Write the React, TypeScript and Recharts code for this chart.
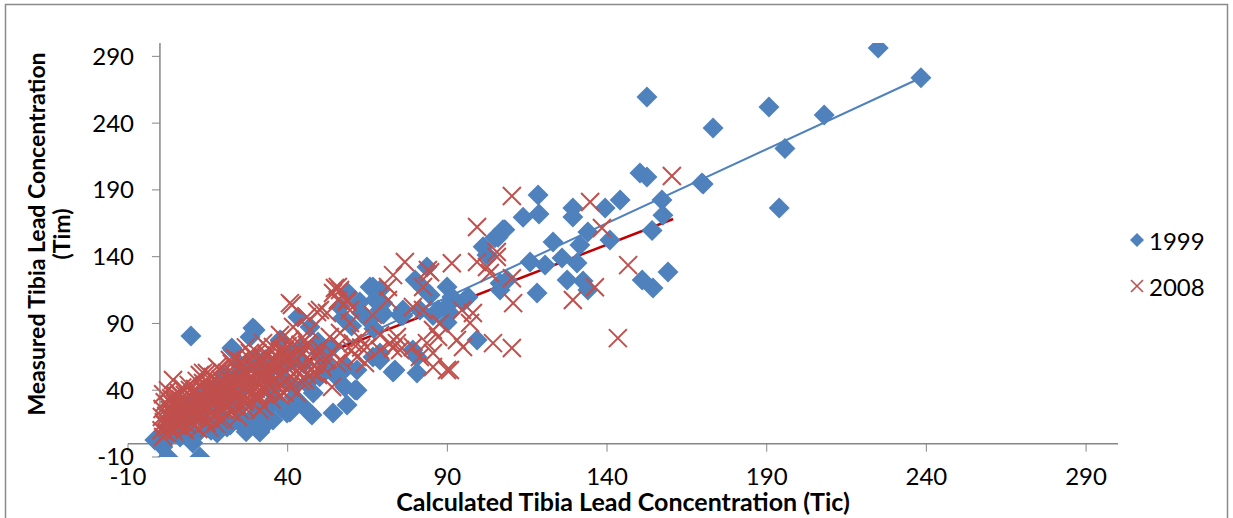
import React from "react";
import { ScatterChart, Scatter, XAxis, YAxis, ReferenceLine, Legend } from "recharts";

// tick values for both axes
const xTicks = [-10, 40, 90, 140, 190, 240, 290];
const yTicks = [-10, 40, 90, 140, 190, 240, 290];

// 1999 measurements [Tic, Tim]
const pts1999: [number, number][] = [
  [224.9, 296.3], [238.3, 273.9], [152.5, 259.6], [190.7, 252.1], [208, 246.1],
  [173.2, 236.3], [195.7, 221], [150.3, 202.7], [152.5, 199.6], [170.1, 194.5],
  [193.9, 176.5], [157.2, 182.5], [157.5, 171.1], [154.1, 159.6], [118.4, 186.2],
  [113.7, 169.6], [118.7, 171.9], [108, 160.2], [129.3, 176.5], [129.3, 169.7],
  [139.4, 176.5], [144.1, 182.5], [134, 158.5], [123.1, 151], [131.5, 148.7],
  [115.9, 136], [120.6, 133.8], [125.9, 139], [130.6, 135.3], [127.5, 122.5],
  [132.5, 121.8], [140.9, 152.5], [151, 122.5], [154.4, 116.5], [159.1, 128.5],
  [118.1, 112.8], [134, 115.1], [106.5, 115.1], [169.7, 195.2], [107.4, 160.2],
  [104.9, 154.2], [101.2, 147.4], [99.3, 77.6], [105.9, 154.6], [102.4, 141.3],
  [83.6, 132.3], [79.9, 122.5], [82.4, 116.6], [84.6, 111.3], [89.9, 117.3],
  [91.4, 109.8], [96.5, 109.8], [94.9, 106], [106.5, 120.1], [108.7, 122.5],
  [68.9, 100.1], [69.8, 105.3], [76.1, 100.1], [75.2, 96.4], [87.1, 100.1],
  [89.9, 103.1], [90.8, 97.8], [68.9, 62.6], [73.6, 55.1], [80.5, 52.9],
  [79.2, 70.1], [80.5, 64.9], [68.9, 115.1], [73, 53.6], [85.5, 95.9],
  [89.9, 90.7], [76.1, 95.9], [81.4, 100.1], [58.9, 112.8], [66.7, 117.3],
  [62.6, 106.1], [65.8, 117.3], [67.3, 107.6], [56.4, 102.3], [57.3, 94.1],
  [43.2, 94.8], [47, 87.4], [29.1, 86.6], [29.8, 85.1], [28.2, 79.9],
  [22.5, 71.6], [22.9, 70.1], [53.9, 72.4], [49.5, 76.1], [51.7, 60.4],
  [58.6, 57.4], [61.7, 55.1], [57.9, 42.4], [61.1, 40.2], [58.6, 28.9],
  [40.7, 23.7], [47.6, 21.4], [54.2, 22.9], [33.5, 15.4], [35.4, 31.2],
  [34.4, 40.2], [31.3, 55.1], [39.1, 47.6], [41.7, 42.4], [68.9, 67.9],
  [39.8, 23], [47, 23], [61.7, 40], [28.2, 15.4], [31.3, 8.7],
  [17.9, 7.9], [21, 12.4], [25.1, 15.4], [29.1, 19.9], [31.3, 10.2],
  [6.3, 5], [10.3, 0.4], [12.5, -10], [-1.6, 2.7], [0.9, -2.5],
  [2.5, -10], [9.7, 80.6], [52.3, 57.4], [55.4, 49.9], [66.7, 64.9],
  [3.1, 13.9], [7.8, 17.7], [12.5, 21.4], [17.2, 28.9], [21.9, 36.4],
  [26.6, 43.9], [32.9, 51.4], [36, 58.9], [40.7, 66.4], [43.8, 71.6],
  [15.7, 40.2], [20.4, 51.4], [25.1, 58.9], [29.8, 64.1], [37.6, 77.6],
  [12.5, 32.7], [9.4, 25.2], [4.7, 19.2], [5, 8], [8, 12], [11, 6],
  [14, 17], [16, 10], [19, 20], [22, 14], [24, 26], [26, 18], [27, 9],
  [30, 28], [33, 22], [35.4, 17.7], [36, 33], [38, 27], [42, 35], [44, 30],
  [46, 45], [48, 38], [50, 50], [3, 5], [7, 27], [10, 32], [13, 38], [18, 44],
  [23, 48], [27, 60], [33, 63], [38, 56], [45, 60], [50, 68], [65.5, 92],
  [67, 86], [70, 97], [63, 98], [60, 88],
];

// 2008 measurements [Tic, Tim]
const pts2008: [number, number][] = [
  [160.3, 200.4], [134.7, 181], [110.2, 185.4], [138.4, 161.5], [146.6, 133.7],
  [143.4, 79], [136.2, 117.1], [129.3, 107.6], [110.2, 123.9], [110.6, 105.2],
  [110.2, 71.6], [99.3, 162.2], [105.5, 143.5], [99.3, 136], [102.4, 132.3],
  [103.3, 127.8], [105.5, 139.8], [76.7, 136], [73, 126.2], [84.6, 128.3],
  [91.4, 135.1], [55.7, 117.3], [71.4, 117.3], [71.4, 107.6], [82.4, 117.3],
  [83.9, 130], [79.2, 102.3], [82.4, 100.1], [93, 77.6], [94.9, 72.4],
  [87.7, 90.1], [85.5, 85.1], [87.1, 79.9], [74.2, 75.3], [75.2, 70.1],
  [73, 71.6], [83.6, 75.3], [89.9, 55.1], [98, 97.8], [97.1, 90.3],
  [104.3, 75.3], [94.6, 100.1], [41.3, 103.8], [54.8, 116.6], [55.7, 107.6],
  [58.6, 107.6], [59.5, 100.1], [50.1, 100.1], [52.3, 97.8], [47, 85.1],
  [41.7, 87.4], [53.2, 79.9], [59.5, 90.3], [62.6, 79], [64.2, 60.4],
  [55.4, 60.4], [61.7, 64.9], [53.9, 42.4], [47.9, 68.6], [43.8, 56.6],
  [38.5, 60.4], [35.4, 72.4], [33.5, 64.9], [37.6, 81.4], [40.7, 42.4],
  [42.9, 37.9], [4.1, 47.6], [0.6, 19.9], [3.1, 25.2], [4.7, 32.7],
  [6.3, 28.9], [7.8, 36.4], [9.4, 17.7], [11, 32.7], [13.5, 45.4],
  [14.7, 52.9], [14.7, 25.2], [14.7, 15.4], [16.6, 40.2], [17.9, 57.4],
  [18.8, 17.7], [19.7, 32.7], [21.3, 47.6], [23.5, 64.1], [23.5, 36.4],
  [25.1, 45.4], [26.6, 55.1], [28.2, 67.9], [28.2, 32.7], [29.8, 43.9],
  [31.3, 52.9], [32.3, 75.3], [32.9, 40.2], [34.4, 58.9], [36, 47.6],
  [2.2, 7.9], [4.1, 12.4], [5.6, 21.4], [7.8, 10.2], [11, 13.9],
  [12.5, 28.9], [9.4, 40.2], [6.3, 36.4], [1.6, 13.9], [3.8, 17.7],
  [15.7, 36.4], [20.4, 25.2], [25.1, 25.2], [26.6, 32.7], [12.5, 51.4],
  [21.9, 62.6], [17.2, 47.6], [39.1, 70.1], [40.7, 77.6], [43.8, 70.1],
  [45.4, 77.6], [48.5, 58.9], [49.5, 51.4], [45.4, 47.6], [37.6, 36.4],
  [31.3, 25.2], [30.7, 36.4], [26.9, 72.1], [66.7, 96.4], [68.9, 81.4],
  [0.5, 10], [0.8, 26], [1.2, 16], [1.5, 31], [2, 21], [2.4, 12], [2.8, 28],
  [3.2, 19], [3.5, 34], [4, 24], [4.4, 15], [4.8, 30], [5.2, 20], [5.6, 26],
  [6, 38], [6.5, 17], [7, 23], [7.4, 32], [8, 27], [8.5, 14], [9, 21],
  [9.5, 35], [10, 29], [10.5, 24], [11, 41], [11.5, 19], [12, 36], [12.6, 27],
  [13, 31], [13.5, 22], [14, 39], [14.5, 33], [15, 28], [15.5, 45], [16, 24],
  [16.5, 37], [17, 31], [17.5, 42], [18, 27], [18.5, 35], [19, 48], [19.5, 30],
  [20, 40], [20.5, 36], [21, 44], [21.5, 29], [22, 51], [22.5, 38], [23, 33],
  [23.5, 46], [24, 41], [24.5, 55], [25, 37], [25.5, 49], [26, 43], [26.5, 31],
  [27, 52], [27.5, 46], [28, 40], [28.5, 58], [29, 49], [29.5, 35], [30, 54],
  [30.5, 45], [31, 61], [31.5, 50], [32, 42], [32.5, 57], [33, 48], [33.5, 67],
  [34, 53], [34.5, 44], [35, 62], [35.5, 56], [36, 39], [36.5, 66], [37, 51],
  [37.5, 59], [38, 45], [38.5, 69], [39, 55], [39.5, 64], [40, 48], [41, 58],
  [41.5, 73], [42, 52], [43, 63], [44, 47], [44.5, 68], [45, 56], [46, 74],
  [47, 61], [48, 53], [49, 66], [50, 71], [51, 57], [52, 63], [54, 68],
  [56, 74], [57, 62], [60, 70], [63, 72], [40.7, 105.2], [46, 94.8],
  [49.2, 98.6], [54.2, 112.8], [56.4, 115.1], [58.6, 106.1], [56.4, 82.8],
  [60.4, 75.3], [64.8, 72.4], [68.9, 70.1], [74.2, 79.9], [72, 75.3],
  [79.2, 72.4], [81.4, 64.9], [85.5, 67.9], [90.8, 55.1], [85.5, 57.4],
  [1, 5], [1, 37], [2, 8], [2.5, 40], [3, 14], [3.5, 23], [4, 29], [4.5, 9],
  [5, 36], [5.5, 13], [6, 22], [6.5, 33], [7, 42], [7.5, 11], [8, 19],
  [8.5, 30], [9, 44], [9.5, 25], [10, 15], [10.5, 38], [11, 26], [11.5, 47],
  [12, 11], [12.5, 21], [13, 34], [13.5, 53], [14, 18], [14.5, 29], [15, 42],
  [15.5, 12], [16, 32], [16.5, 50], [17, 22], [17.5, 15], [18, 38], [18.5, 56],
  [19, 25], [19.5, 43], [20, 18], [20.5, 30], [21, 53], [21.5, 39], [22, 24],
  [22.5, 60], [23, 43], [23.5, 28], [24, 50], [24.5, 20], [25, 62], [25.5, 33],
  [26, 48], [26.5, 59], [27, 26], [27.5, 38], [28, 64], [28.5, 47], [29, 30],
  [29.5, 57], [30, 41], [30.5, 68], [31, 34], [31.5, 45], [32, 62], [32.5, 28],
  [33, 55], [33.5, 38], [34, 71], [34.5, 50], [35, 33], [35.5, 46], [36, 60],
  [37, 42], [37.5, 70], [38, 53], [39, 38], [39.5, 61], [40, 73], [41, 45],
  [42, 66], [43, 55], [44, 74], [46, 52],
];

// linear trend line end points
const trend1999 = [{ x: -1.6, y: 8.2 }, { x: 238.3, y: 274 }];
const trend2008 = [{ x: 0.6, y: 20 }, { x: 160.7, y: 168.2 }];

const data1999 = pts1999.map(([x, y]) => ({ x, y }));
const data2008 = pts2008.map(([x, y]) => ({ x, y }));

const FONT = "Lato, 'Open Sans', sans-serif";
const BLUE = "#4F81BD";
const RED = "#C0504D";
const AXIS = "#868686";
const TICK_SIZE = 24;
const TITLE_SIZE = 25;

const W = 1233;
const H = 518;
const MARGIN = { top: 43, right: 115, bottom: 31, left: 68 };
const Y_AXIS_W = 60;
const X_AXIS_H = 30;
const DOMAIN: [number, number] = [-10, 300];

// where the axes cross (value 0) in pixels
const plotLeft = MARGIN.left + Y_AXIS_W;
const plotW = W - MARGIN.right - plotLeft;
const plotTop = MARGIN.top;
const plotH = H - MARGIN.bottom - X_AXIS_H - plotTop;
const X0 = plotLeft + (plotW * (0 - DOMAIN[0])) / (DOMAIN[1] - DOMAIN[0]);
const Y0 = plotTop + (plotH * (DOMAIN[1] - 0)) / (DOMAIN[1] - DOMAIN[0]);

const Diamond = (props: any) => {
  const { cx, cy } = props;
  const r = 10.5;
  return <path d={`M${cx},${cy - r}L${cx + r},${cy}L${cx},${cy + r}L${cx - r},${cy}Z`} fill={BLUE} />;
};

const Cross = (props: any) => {
  const { cx, cy } = props;
  const r = 9;
  return (
    <path
      d={`M${cx - r},${cy - r}L${cx + r},${cy + r}M${cx - r},${cy + r}L${cx + r},${cy - r}`}
      stroke={RED}
      strokeWidth={2}
      fill="none"
    />
  );
};

const XTick = ({ x, payload }: any) => (
  <g>
    <line x1={x} x2={x} y1={Y0} y2={Y0 + 8} stroke={AXIS} />
    <text x={x} y={477} dy="0.35em" textAnchor="middle" fontFamily={FONT} fontSize={TICK_SIZE} fill="#000">
      {payload.value}
    </text>
  </g>
);

const YTick = ({ y, payload }: any) => (
  <g>
    <line x1={X0 - 8} x2={X0} y1={y} y2={y} stroke={AXIS} />
    <text x={134} y={y} dy="0.35em" textAnchor="end" fontFamily={FONT} fontSize={TICK_SIZE} fill="#000">
      {payload.value}
    </text>
  </g>
);

const XTitle = () => (
  <text x={623} y={502} dy="0.35em" textAnchor="middle" fontFamily={FONT} fontSize={TITLE_SIZE} fontWeight="bold" fill="#000">
    Calculated Tibia Lead Concentration (Tic)
  </text>
);

const YTitle = () => (
  <g fontFamily={FONT} fontSize={23} fontWeight="bold" fill="#000">
    <text transform="translate(37,234) rotate(-90)" dy="0.35em" textAnchor="middle">
      Measured Tibia Lead Concentration
    </text>
    <text transform="translate(62,234) rotate(-90)" dy="0.35em" textAnchor="middle">
      (Tim)
    </text>
  </g>
);

const LegendBox = () => (
  <div style={{ fontFamily: FONT, fontSize: TICK_SIZE, color: "#000" }}>
    <div style={{ display: "flex", alignItems: "center", height: 46 }}>
      <svg width={16} height={16} style={{ marginRight: 4 }}>
        <path d="M8,1L15,8L8,15L1,8Z" fill={BLUE} />
      </svg>
      <span>1999</span>
    </div>
    <div style={{ display: "flex", alignItems: "center", height: 46 }}>
      <svg width={16} height={16} style={{ marginRight: 4 }}>
        <path d="M2,2L14,14M2,14L14,2" stroke={RED} strokeWidth={1.6} />
      </svg>
      <span>2008</span>
    </div>
  </div>
);

export default function App() {
  return (
    <div style={{ position: "fixed", left: 0, top: 0, width: W, height: H, overflow: "hidden", background: "#fff" }}>
      <div style={{ position: "absolute", left: 0, top: 0, zIndex: 1 }}>
        <ScatterChart width={W} height={H} margin={MARGIN}>
          <XAxis
            type="number"
            dataKey="x"
            domain={DOMAIN}
            ticks={xTicks}
            interval={0}
            height={X_AXIS_H}
            axisLine={false}
            tickLine={false}
            tick={<XTick />}
            allowDataOverflow
            label={<XTitle />}
          />
          <YAxis
            type="number"
            dataKey="y"
            domain={DOMAIN}
            ticks={yTicks}
            interval={0}
            width={Y_AXIS_W}
            axisLine={false}
            tickLine={false}
            tick={<YTick />}
            allowDataOverflow
            label={<YTitle />}
          />
          <ReferenceLine x={0} stroke={AXIS} strokeWidth={1.5} />
          <ReferenceLine y={0} stroke={AXIS} strokeWidth={1.5} />
          <Scatter name="1999" data={data1999} shape={<Diamond />} isAnimationActive={false} />
          <Scatter name="2008" data={data2008} shape={<Cross />} isAnimationActive={false} />
          <ReferenceLine segment={trend1999} stroke={BLUE} strokeWidth={2} ifOverflow="visible" />
          <ReferenceLine segment={trend2008} stroke="#C00000" strokeWidth={2.5} ifOverflow="visible" />
          <Legend
            layout="vertical"
            align="center"
            verticalAlign="middle"
            content={<LegendBox />}
            wrapperStyle={{ left: 1129, top: 217, width: 100 }}
          />
        </ScatterChart>
      </div>
      <svg
        width={W}
        height={H}
        style={{ position: "absolute", left: 0, top: 0, zIndex: 2, pointerEvents: "none" }}
      >
        <rect x={5.5} y={4.5} width={1222} height={560} fill="none" stroke="#8a8a8a" strokeWidth={1.5} />
      </svg>
    </div>
  );
}
